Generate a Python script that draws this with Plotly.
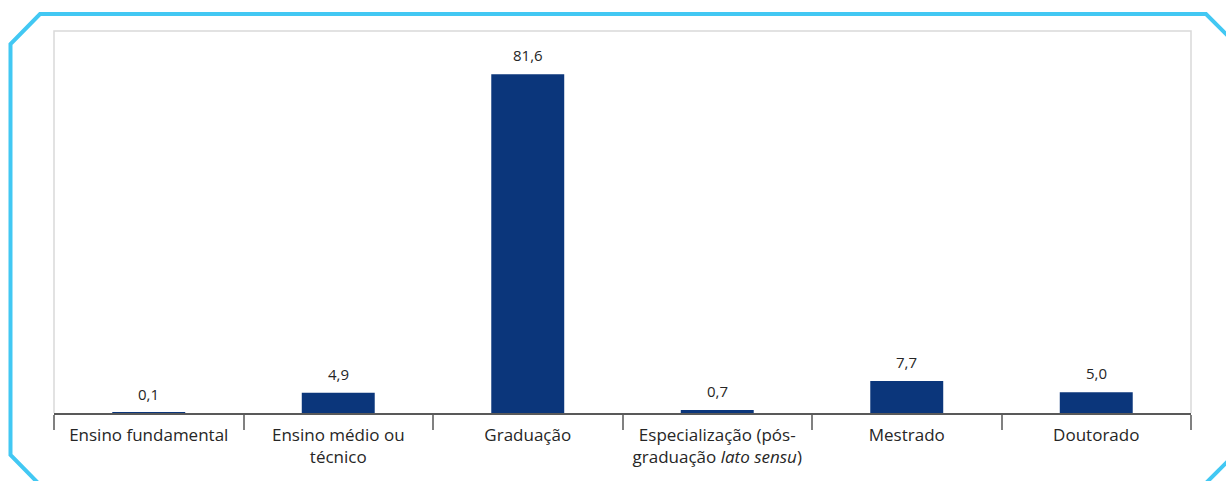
import plotly.graph_objects as go

# escolaridade (%)
categorias = [
    "Ensino fundamental",
    "Ensino médio ou<br>técnico",
    "Graduação",
    "Especialização (pós-<br>graduação <i>lato sensu</i>)",
    "Mestrado",
    "Doutorado",
]
valores = [0.1, 4.9, 81.6, 0.7, 7.7, 5.0]
rotulos = [f"{v:.1f}".replace(".", ",") for v in valores]

W, H = 1226, 481
L, R, T, B = 54, 35, 31, 68
pw, ph = W - L - R, H - T - B


def px(x, y):
    # pixel -> paper coords (for the decorative frame)
    return (x - L) / pw, (H - B - y) / ph


def path(pts, close=False):
    s = ""
    for i, (x, y) in enumerate(pts):
        a, b = px(x, y)
        s += ("M" if i == 0 else "L") + f"{a:.5f},{b:.5f} "
    return s + ("Z" if close else "")


fig = go.Figure()

fig.add_trace(go.Bar(
    x=categorias,
    y=valores,
    marker=dict(color="#0b367b", line=dict(width=0)),
    hoverinfo="skip",
))

# rótulos de valor acima das barras
for c, v, t in zip(categorias, valores, rotulos):
    fig.add_annotation(x=c, y=v, text=t, showarrow=False,
                       yanchor="bottom", yshift=7,
                       font=dict(size=15, color="#262626"))

# moldura azul (cortada à direita e embaixo)
azul = dict(color="#42c8f3", width=4)
fig.add_shape(type="path", xref="paper", yref="paper", layer="below", line=azul,
              path=path([(44, 489), (10.5, 455), (10.5, 44), (40, 14),
                         (1206, 14), (1236, 44)]))
fig.add_shape(type="path", xref="paper", yref="paper", layer="below", line=azul,
              path=path([(1236, 453), (1200, 489)]))

# borda cinza do painel
fig.add_shape(type="path", xref="paper", yref="paper",
              path=path([(54, 413), (54, 31), (1191, 31), (1191, 413)]),
              line=dict(color="#d9d9d9", width=1.5), layer="below")

fig.update_layout(
    width=W, height=H,
    margin=dict(l=L, r=R, t=T, b=B),
    paper_bgcolor="white",
    plot_bgcolor="white",
    showlegend=False,
    bargap=0.615,
    font=dict(family="Open Sans, Noto Sans, sans-serif", color="#262626"),
    xaxis=dict(
        showline=True, linecolor="#595959", linewidth=1.5,
        ticks="outside", tickson="boundaries", ticklen=15,
        tickcolor="#808080", tickwidth=1.5,
        tickfont=dict(size=17, color="#262626"),
        ticklabelstandoff=6,
        showgrid=False,
    ),
    yaxis=dict(range=[0, 92], visible=False, showgrid=False),
)

fig.write_html("out.html", config={"displayModeBar": False},
               post_script="document.body.style.margin='0';"
                           "document.documentElement.style.overflow='hidden';")
